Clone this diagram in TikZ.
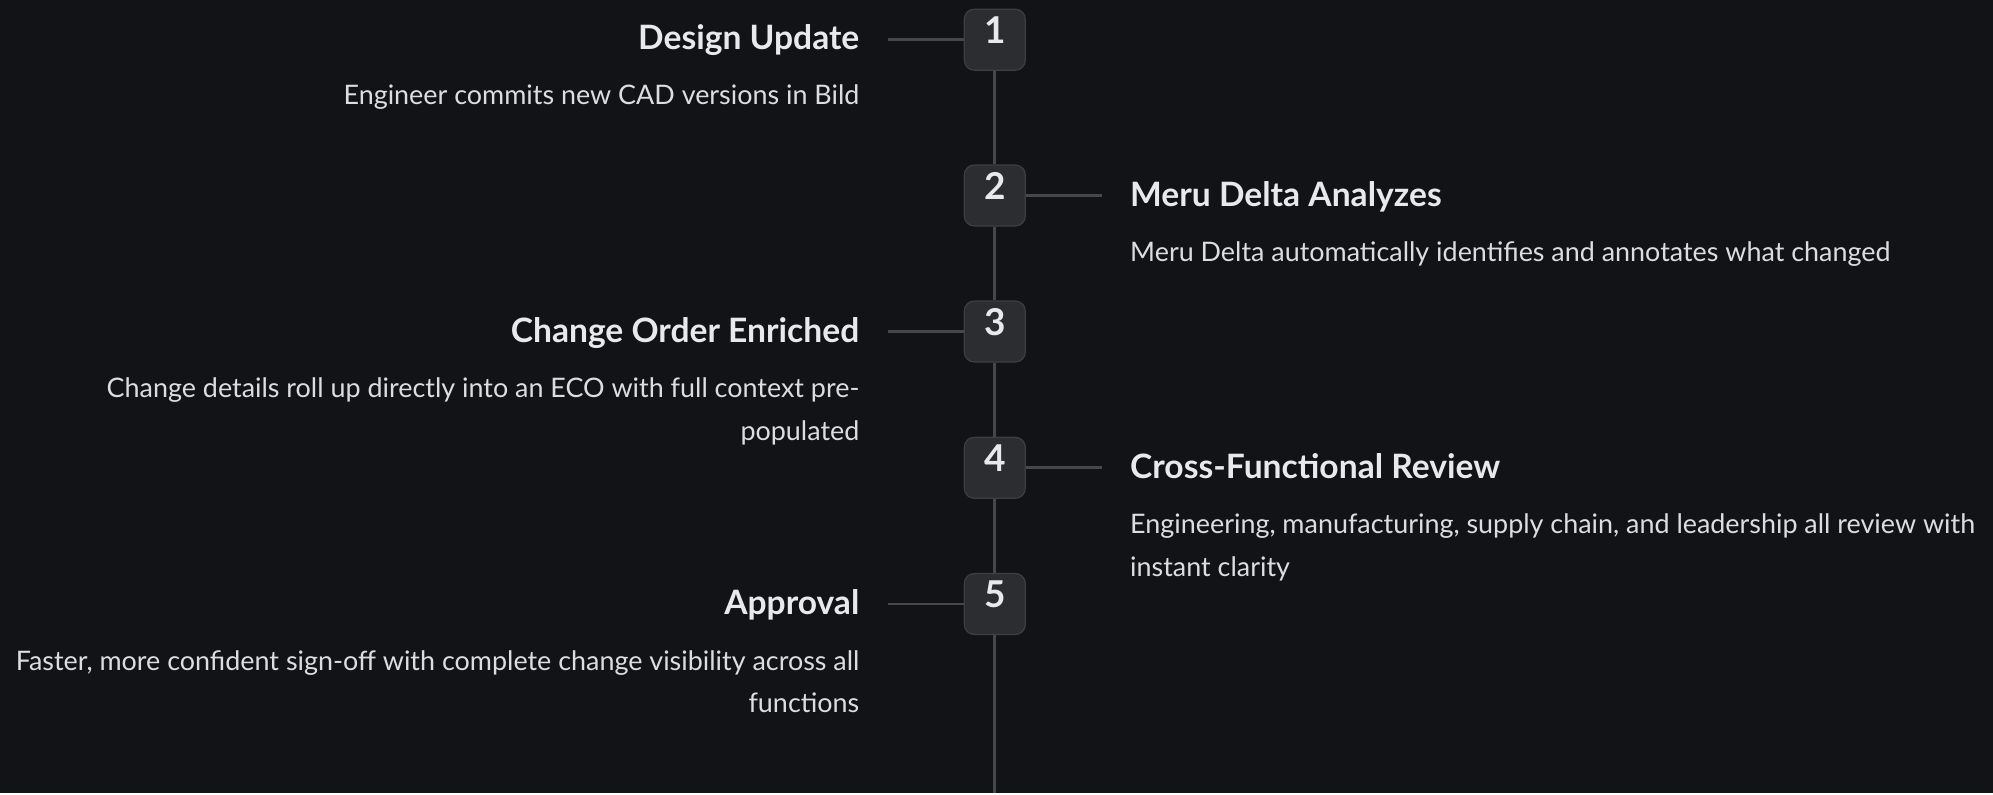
\documentclass[tikz,border=0pt]{standalone}
\usepackage{fontspec}
\setmainfont{Lato}
\usepackage{xcolor}
\definecolor{tlbg}{HTML}{121316}
\definecolor{tlbox}{HTML}{2C2D30}
\definecolor{tlborder}{HTML}{3D3E42}
\definecolor{tlline}{HTML}{46474B}
\definecolor{tltext}{HTML}{E8E9EB}
\definecolor{tldesc}{HTML}{DCDDE0}
\usepackage{tikz}
\usetikzlibrary{positioning}

\begin{document}
\begin{tikzpicture}[x=1pt, y=-1pt,
  stepbox/.style={draw=tlborder, line width=1.2pt, fill=tlbox, rounded corners=10pt,
    minimum size=61pt, inner sep=0pt, text=tltext, text depth=19pt,
    font=\fontsize{37}{37}\selectfont\bfseries},
  steptitle/.style={text=tltext, inner sep=0pt, font=\fontsize{33.6}{40}\selectfont\bfseries},
  stepdesc/.style={text=tldesc, inner sep=0pt, font=\fontsize{26.9}{42.5}\selectfont},
  link/.style={draw=tlline, line width=2.8pt}]
  % Timeline — ECO workflow steps (multi-line text: base = last line)
  \fill[tlbg] (0,0) rectangle (1993,793);
  \node[stepbox] (s1) at (994.8,39.7) {1};
  \node[stepbox] (s2) at (994.8,195.5) {2};
  \node[stepbox] (s3) at (994.8,331.5) {3};
  \node[stepbox] (s4) at (994.8,467.8) {4};
  \node[stepbox] (s5) at (994.8,604) {5};
  \coordinate (tlend) at (994.8,793);
  \coordinate[left=76pt of s1.west] (c1);
  \coordinate[right=76.4pt of s2.east] (c2);
  \coordinate[left=76pt of s3.west] (c3);
  \coordinate[right=76.4pt of s4.east] (c4);
  \coordinate[left=76pt of s5.west] (c5);
  \draw[link] (s1.south) -- (s2.north);
  \draw[link] (s2.south) -- (s3.north);
  \draw[link] (s3.south) -- (s4.north);
  \draw[link] (s4.south) -- (s5.north);
  \draw[link] (s5.south) -- (tlend);
  \draw[link] (c1) -- (s1.west);
  \draw[link] (s2.east) -- (c2);
  \draw[link] (c3) -- (s3.west);
  \draw[link] (s4.east) -- (c4);
  \draw[link] (c5) -- (s5.west);
  \node[steptitle, anchor=base east] (t1) at (859.5,49.5) {Design Update};
  \node[stepdesc, anchor=base east, align=right] (d1) at (859.5,104.5)
    {Engineer commits new CAD versions in Bild};
  \node[steptitle, anchor=base west] (t2) at (1130,206.8) {Meru Delta Analyzes};
  \node[stepdesc, anchor=base west, align=left] (d2) at (1130,261.3)
    {Meru Delta automatically identifies and annotates what changed};
  \node[steptitle, anchor=base east] (t3) at (859.5,342) {Change Order Enriched};
  \node[stepdesc, anchor=base east, align=right] (d3) at (859.5,440)
    {Change details roll up directly into an ECO with full context pre-\\populated};
  \node[steptitle, anchor=base west] (t4) at (1130,478.8) {Cross-Functional Review};
  \node[stepdesc, anchor=base west, align=left] (d4) at (1130,576)
    {Engineering, manufacturing, supply chain, and leadership all review with\\instant clarity};
  \node[steptitle, anchor=base east] (t5) at (859.5,614) {Approval};
  \node[stepdesc, anchor=base east, align=right] (d5) at (859.5,712.5)
    {Faster, more confident sign-off with complete change visibility across all\\functions};
\end{tikzpicture}
\end{document}
